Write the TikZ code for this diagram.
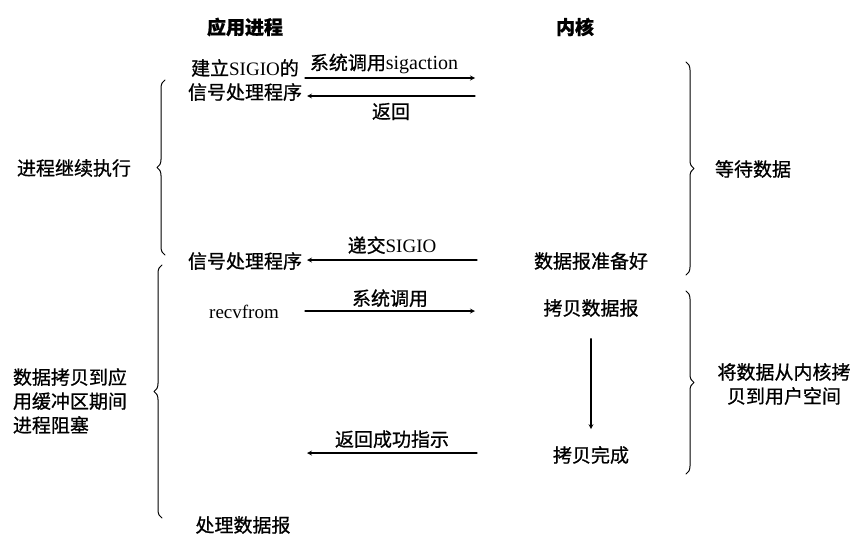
\documentclass[tikz,border=0pt]{standalone}
\usepackage{fontspec}
\setmainfont{Liberation Serif}
\newfontfamily\cjk{Noto Sans CJK SC}[FakeBold=0.8]
\usetikzlibrary{decorations.pathreplacing}
\begin{document}
\begin{tikzpicture}[>=stealth,line join=round,line cap=round,x=1pt,y=-1pt,
	font=\cjk\fontsize{19}{24}\selectfont,line width=1.2pt,
	brc/.style={decorate,decoration={brace,amplitude=8pt},line width=1pt}]
				\useasboundingbox (0,0) rectangle (863,546);
				% headings
				\node[font=\cjk\bfseries\fontsize{19}{24}\selectfont] (app) at (245,27) {应用进程};
				\node[font=\cjk\bfseries\fontsize{19}{24}\selectfont] (kern) at (575,27) {内核};
				% application side
				\node[align=center] (setup) at (245,80) {建立\textrm{SIGIO}的\\信号处理程序};
				\node (handler) at (245,261) {信号处理程序};
				\node (recv) at (244,312) {\textrm{recvfrom}};
				\node (proc) at (243,525) {处理数据报};
				% kernel side
				\node (ready) at (591,261) {数据报准备好};
				\node (copy) at (591,308) {拷贝数据报};
				\node (done) at (591,455) {拷贝完成};
				% brace labels
				\node (cont) at (74,168) {进程继续执行};
				\node[anchor=west,align=left] (block) at (9,401) {数据拷贝到应\\用缓冲区期间\\进程阻塞};
				\node (wait) at (753,169) {等待数据};
				\node[align=center] (move) at (784,384) {将数据从内核拷\\贝到用户空间};
				% arrow ends
				\coordinate (A1) at (305,78);
				\coordinate (K1) at (475,78);
				\coordinate (K2) at (475,96);
				\coordinate (A2) at (307,96);
				\coordinate (K3) at (477,260);
				\coordinate (A3) at (307,260);
				\coordinate (A4) at (305,311);
				\coordinate (K4) at (475,311);
				\coordinate (K5) at (477,453);
				\coordinate (A5) at (307,453);
				\draw[->] (A1)--node[above,xshift=-6pt] {系统调用\textrm{\fontsize{20}{24}\selectfont sigaction}} (K1);
				\draw[->] (K2)--node[below,yshift=-3pt] {返回} (A2);
				\draw[->] (K3)--node[above,yshift=2pt] {递交\textrm{SIGIO}} (A3);
				\draw[->] (A4)--node[above] {系统调用} (K4);
				\draw[->] (K5)--node[above,yshift=1pt] {返回成功指示} (A5);
				\draw[->,shorten <=18pt,shorten >=13pt] (copy)--(done);
				% braces
				\draw[brc] (165,255)--(165,80);
				\draw[brc] (162,518)--(162,265);
				\draw[brc] (686,62)--(686,275);
				\draw[brc] (686,291)--(686,474);
			\end{tikzpicture}
\end{document}
